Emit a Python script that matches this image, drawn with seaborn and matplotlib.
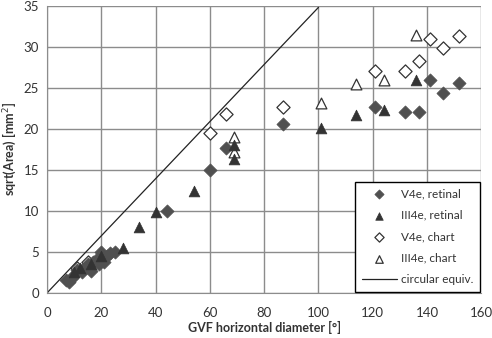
import matplotlib
matplotlib.use('Agg')
import matplotlib.pyplot as plt
import seaborn as sns

# V4e, retinal (filled diamonds)
v4e_ret_x = [7, 8, 9, 10, 11, 13, 14, 15, 16, 17, 18, 19, 20, 20, 21, 22, 23, 25,
             44, 60, 66, 87, 121, 132, 137, 141, 146, 152]
v4e_ret_y = [1.5, 1.3, 1.8, 2.2, 2.8, 2.5, 3.0, 3.5, 2.6, 3.8, 4.0, 3.5, 4.2, 5.0, 3.8, 4.5, 4.8, 5.0,
             10.0, 15.0, 17.7, 20.6, 22.6, 22.0, 22.0, 25.9, 24.3, 25.6]

# III4e, retinal (filled triangles)
iii4e_ret_x = [10, 12, 16, 20, 28, 34, 40, 54, 69, 69, 101, 114, 124, 136]
iii4e_ret_y = [2.5, 3.0, 3.5, 4.5, 5.4, 8.0, 9.9, 12.4, 18.0, 16.3, 20.1, 21.7, 22.3, 26.0]

# V4e, chart (open diamonds)
v4e_chart_x = [11, 15, 60, 66, 87, 121, 132, 137, 141, 146, 152]
v4e_chart_y = [3.0, 3.8, 19.5, 21.8, 22.6, 27.0, 27.0, 28.2, 30.9, 29.9, 31.3]

# III4e, chart (open triangles)
iii4e_chart_x = [69, 69, 101, 114, 124, 136]
iii4e_chart_y = [19.0, 17.2, 23.1, 25.5, 26.0, 31.4]

# circular equivalent line
circ_x = [0, 100]
circ_y = [0, 34.8]

sns.set_style('white')
plt.rcParams['font.family'] = ['Lato', 'DejaVu Sans']

fig, ax = plt.subplots(figsize=(4.92, 3.38), dpi=100)
fig.subplots_adjust(left=0.096, right=0.978, bottom=0.134, top=0.983)

# open markers first, filled ones drawn over them
sns.scatterplot(x=v4e_chart_x, y=v4e_chart_y, ax=ax, marker='D', s=45, facecolor='white',
                edgecolor='#333333', linewidth=0.9, label='V4e, chart', zorder=3)
sns.scatterplot(x=iii4e_chart_x, y=iii4e_chart_y, ax=ax, marker='^', s=60, facecolor='white',
                edgecolor='#333333', linewidth=0.9, label='III4e, chart', zorder=3)
sns.scatterplot(x=v4e_ret_x, y=v4e_ret_y, ax=ax, marker='D', s=45, color='#505050',
                edgecolor='#505050', linewidth=0.5, label='V4e, retinal', zorder=4)
sns.scatterplot(x=iii4e_ret_x, y=iii4e_ret_y, ax=ax, marker='^', s=60, color='#333333',
                edgecolor='#333333', linewidth=0.5, label='III4e, retinal', zorder=4)
sns.lineplot(x=circ_x, y=circ_y, ax=ax, color='#222222', linewidth=0.9,
             label='circular equiv.', zorder=2)

ax.set_xlim(0, 160)
ax.set_ylim(0, 35)
ax.set_xticks(range(0, 161, 20))
ax.set_yticks(range(0, 36, 5))
ax.grid(True, color='#8c8c8c', linewidth=1.0)
ax.set_axisbelow(True)
for side in ['top', 'right']:
    ax.spines[side].set_visible(False)
for side in ['left', 'bottom']:
    ax.spines[side].set_color('#8c8c8c')
ax.tick_params(axis='both', labelsize=9.5, colors='#333333', length=0, pad=6)
ax.tick_params(axis='x', length=4, color='#8c8c8c', direction='out')

ax.set_xlabel('GVF horizontal diameter [°]', fontsize=9, fontweight='bold', color='#333333', labelpad=2)
ax.set_ylabel('sqrt(Area) [mm$^2$]', fontsize=9, fontweight='bold', color='#333333', labelpad=4)

# legend in the original order
handles, labels = ax.get_legend_handles_labels()
order = ['V4e, retinal', 'III4e, retinal', 'V4e, chart', 'III4e, chart', 'circular equiv.']
hmap = dict(zip(labels, handles))
leg = ax.legend([hmap[k] for k in order], order, loc='lower right', bbox_to_anchor=(1.0, 0.0),
                fontsize=8.5, frameon=True, fancybox=False, edgecolor='black', framealpha=1,
                handlelength=3.0, markerscale=0.7, labelspacing=0.88, borderpad=0.55,
                handletextpad=0.35, borderaxespad=0.1)
leg.get_frame().set_linewidth(1.0)
for t in leg.get_texts():
    t.set_color('#333333')

fig.savefig('out.png', dpi=100)
